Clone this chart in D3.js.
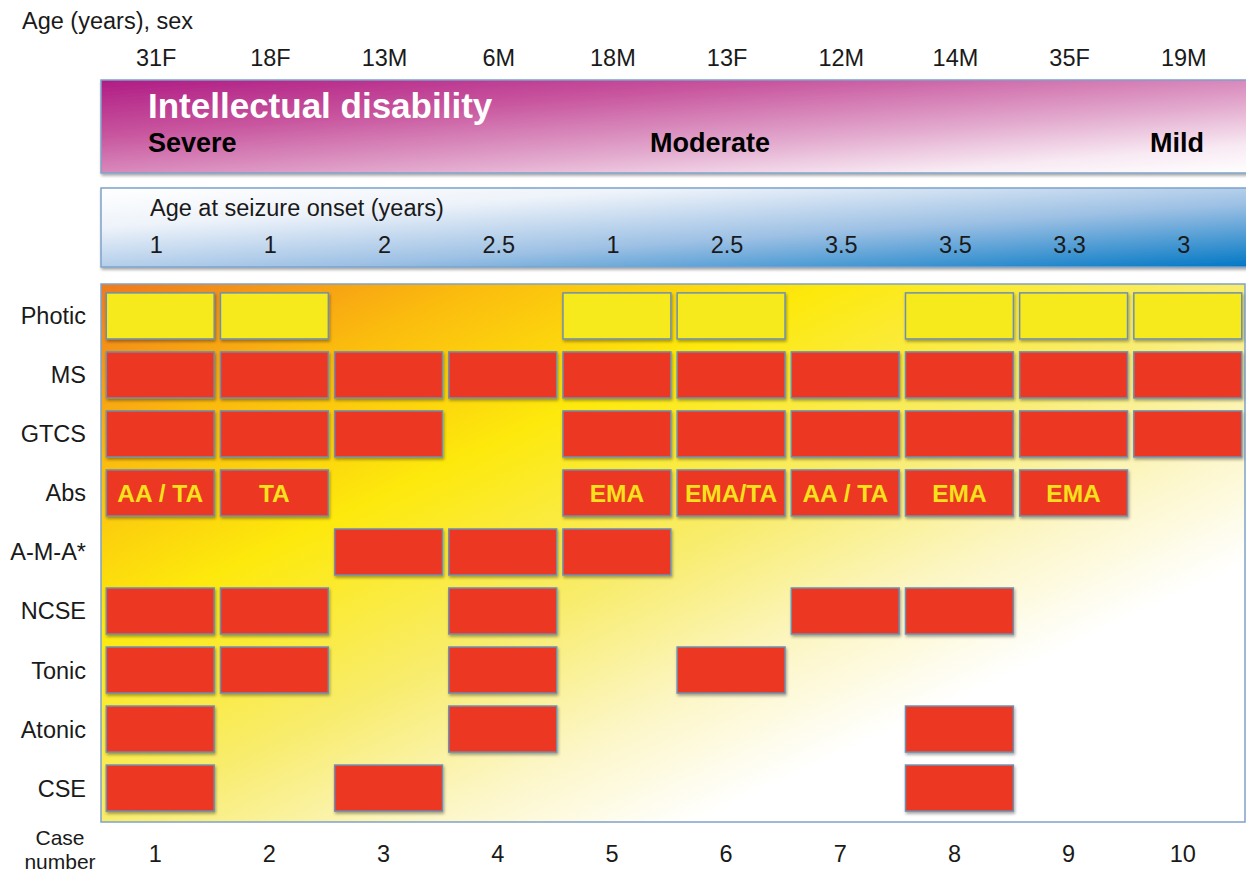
<!DOCTYPE html>
<html>
<head>
<meta charset="utf-8">
<script src="https://cdn.jsdelivr.net/npm/d3@7"></script>
<style>
  body { margin: 0; background: #fff; }
  svg { display: block; font-family: "Liberation Sans", Arial, sans-serif; }
  .lbl { font-size: 23.5px; fill: #1a1a1a; }
</style>
</head>
<body>
<svg id="chart" width="1246" height="875"></svg>
<script>
var cases = [1, 2, 3, 4, 5, 6, 7, 8, 9, 10];
var ageSex = ["31F", "18F", "13M", "6M", "18M", "13F", "12M", "14M", "35F", "19M"];
var onsetAge = ["1", "1", "2", "2.5", "1", "2.5", "3.5", "3.5", "3.3", "3"];
var seizureTypes = ["Photic", "MS", "GTCS", "Abs", "A-M-A*", "NCSE", "Tonic", "Atonic", "CSE"];
var disabilityLevels = ["Severe", "Moderate", "Mild"];

// which cases have each seizure type
var photicCases = [1, 2, 5, 6, 8, 9, 10];
var msCases = [1, 2, 3, 4, 5, 6, 7, 8, 9, 10];
var gtcsCases = [1, 2, 3, 5, 6, 7, 8, 9, 10];
var absCases = [1, 2, 5, 6, 7, 8, 9];
var absLabels = ["AA / TA", "TA", "EMA", "EMA/TA", "AA / TA", "EMA", "EMA"];
var amaCases = [3, 4, 5];
var ncseCases = [1, 2, 4, 7, 8];
var tonicCases = [1, 2, 4, 6];
var atonicCases = [1, 4, 8];
var cseCases = [1, 3, 8];

var typeCases = [photicCases, msCases, gtcsCases, absCases, amaCases, ncseCases, tonicCases, atonicCases, cseCases];

var cells = [];
typeCases.forEach(function(list, i) {
  list.forEach(function(c, j) {
    cells.push({
      type: seizureTypes[i],
      case: c,
      label: i === 3 ? absLabels[j] : ""
    });
  });
});

var svg = d3.select("#chart");
var defs = svg.append("defs");

var x = d3.scaleBand().domain(cases).range([104, 1244]).paddingInner(0.055).paddingOuter(0.02);
var y = d3.scaleBand().domain(seizureTypes).range([287, 817]).paddingInner(0.22).paddingOuter(0.1);

// gradients
function grad(id, x1, y1, x2, y2, stops) {
  var g = defs.append("linearGradient").attr("id", id)
    .attr("x1", x1).attr("y1", y1).attr("x2", x2).attr("y2", y2);
  stops.forEach(function(s) {
    g.append("stop").attr("offset", s[0]).attr("stop-color", s[1]);
  });
}
grad("gPurple", "0%", "0%", "100%", "100%",
  [["0%", "#b01c84"], ["30%", "#c8559e"], ["62%", "#e2a8cd"], ["85%", "#f8eaf3"], ["100%", "#ffffff"]]);
grad("gBlue", "0%", "0%", "100%", "100%",
  [["0%", "#ffffff"], ["25%", "#eef3fa"], ["60%", "#9cc0e4"], ["100%", "#0077c4"]]);
grad("gMain", "0%", "0%", "100%", "100%",
  [["0%", "#ef7a1e"], ["16%", "#fbba0e"], ["32%", "#fde90c"], ["50%", "#f8ec6c"], ["64%", "#fcf6c6"], ["76%", "#ffffff"], ["100%", "#ffffff"]]);

var shadow = defs.append("filter").attr("id", "shadow")
  .attr("x", "-10%").attr("y", "-10%").attr("width", "130%").attr("height", "140%");
shadow.append("feDropShadow").attr("dx", 1).attr("dy", 2).attr("stdDeviation", 1.5)
  .attr("flood-color", "#000").attr("flood-opacity", 0.35);

// header
svg.append("text").attr("class", "lbl").attr("x", 22).attr("y", 29).text("Age (years), sex");

svg.append("g").selectAll("text")
  .data(cases)
  .enter()
  .append("text")
  .attr("class", "lbl")
  .attr("x", function(d) { return x(d) + x.bandwidth() / 2 - 4; })
  .attr("y", 66)
  .attr("text-anchor", "middle")
  .text(function(d, i) { return ageSex[i]; });

// intellectual disability band
svg.append("rect")
  .attr("x", 101).attr("y", 80).attr("width", 1150).attr("height", 93)
  .attr("fill", "url(#gPurple)").attr("stroke", "#7ea3c9").attr("stroke-width", 1.5)
  .attr("filter", "url(#shadow)");

svg.append("text")
  .attr("x", 148).attr("y", 118)
  .style("font-size", "35px").style("font-weight", "bold").attr("fill", "#fff")
  .text("Intellectual disability");

var levelX = [148, 710, 1204];
var levelAnchor = ["start", "middle", "end"];
svg.append("g").selectAll("text")
  .data(disabilityLevels)
  .enter()
  .append("text")
  .attr("x", function(d, i) { return levelX[i]; })
  .attr("y", 152)
  .attr("text-anchor", function(d, i) { return levelAnchor[i]; })
  .style("font-size", "27px").style("font-weight", "bold").attr("fill", "#000")
  .text(function(d) { return d; });

// seizure onset band
svg.append("rect")
  .attr("x", 101).attr("y", 188).attr("width", 1150).attr("height", 79)
  .attr("fill", "url(#gBlue)").attr("stroke", "#7ea3c9").attr("stroke-width", 1.5)
  .attr("filter", "url(#shadow)");

svg.append("text").attr("class", "lbl").attr("x", 150).attr("y", 216)
  .text("Age at seizure onset (years)");

svg.append("g").selectAll("text")
  .data(cases)
  .enter()
  .append("text")
  .attr("class", "lbl")
  .attr("x", function(d) { return x(d) + x.bandwidth() / 2 - 4; })
  .attr("y", 253)
  .attr("text-anchor", "middle")
  .text(function(d, i) { return onsetAge[i]; });

// main panel
svg.append("rect")
  .attr("x", 101).attr("y", 284).attr("width", 1144).attr("height", 538)
  .attr("fill", "url(#gMain)").attr("stroke", "#7ea3c9").attr("stroke-width", 1.5);

// row labels
svg.append("g").selectAll("text")
  .data(seizureTypes)
  .enter()
  .append("text")
  .attr("class", "lbl")
  .attr("x", 86)
  .attr("y", function(d) { return y(d) + y.bandwidth() / 2; })
  .attr("dy", "0.36em")
  .attr("text-anchor", "end")
  .text(function(d) { return d; });

// boxes
var boxes = svg.append("g").selectAll("g")
  .data(cells)
  .enter()
  .append("g");

boxes.append("rect")
  .attr("x", function(d) { return x(d.case); })
  .attr("y", function(d) { return y(d.type); })
  .attr("width", x.bandwidth())
  .attr("height", y.bandwidth())
  .attr("fill", function(d) { return d.type === "Photic" ? "#f6ea1e" : "#ec3723"; })
  .attr("stroke", "#6f8fae")
  .attr("stroke-width", 1.5)
  .attr("filter", "url(#shadow)");

boxes.filter(function(d) { return d.label; })
  .append("text")
  .attr("x", function(d) { return x(d.case) + x.bandwidth() / 2; })
  .attr("y", function(d) { return y(d.type) + y.bandwidth() / 2; })
  .attr("dy", "0.36em")
  .attr("text-anchor", "middle")
  .style("font-size", "24.5px").style("font-weight", "bold")
  .attr("fill", "#f7e11c")
  .text(function(d) { return d.label; });

// case numbers
svg.append("text").attr("class", "lbl").style("font-size", "21px").attr("x", 60).attr("y", 845).attr("text-anchor", "middle").text("Case");
svg.append("text").attr("class", "lbl").style("font-size", "21px").attr("x", 60).attr("y", 869).attr("text-anchor", "middle").text("number");

svg.append("g").selectAll("text")
  .data(cases)
  .enter()
  .append("text")
  .attr("class", "lbl")
  .attr("x", function(d) { return x(d) + x.bandwidth() / 2 - 5; })
  .attr("y", 862)
  .attr("text-anchor", "middle")
  .text(function(d) { return d; });
</script>
</body>
</html>
